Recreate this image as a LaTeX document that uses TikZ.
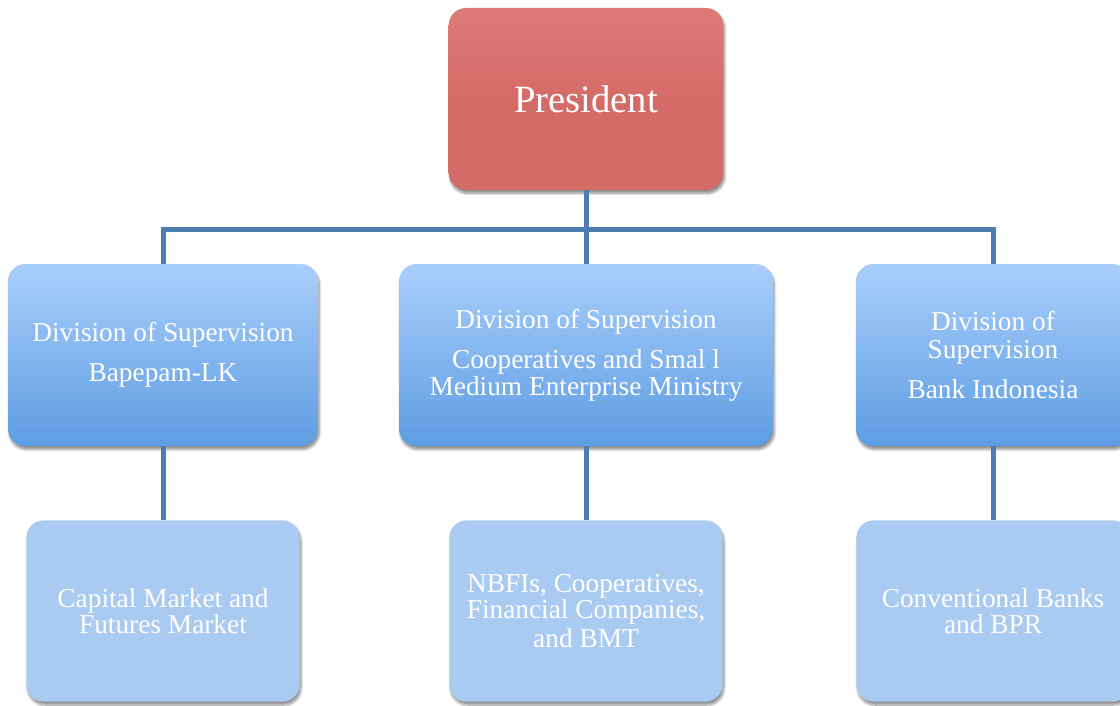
\documentclass[tikz,border=0pt]{standalone}
\usepackage{fontspec}
\setmainfont{Liberation Serif}
\usetikzlibrary{trees,shadows.blur}

\definecolor{presred}{HTML}{D56B67}
\definecolor{presredtop}{HTML}{DC7B76}
\definecolor{divtop}{HTML}{A9CEFB}
\definecolor{divbottom}{HTML}{5E9DE2}
\definecolor{sectorblue}{HTML}{A9CBF1}
\definecolor{linkblue}{HTML}{4D7DB3}

\tikzset{
	boxshadow/.style={blur shadow={shadow xshift=1pt, shadow yshift=-2.5pt, shadow blur steps=8, shadow opacity=45}},
	presbox/.style={rectangle, rounded corners=13pt, boxshadow, top color=presredtop, bottom color=presred, middle color=presred,
		minimum width=206pt, minimum height=136.5pt, inner sep=0pt, text=white, font=\fontsize{29pt}{32pt}\selectfont},
	divbox/.style={rectangle, rounded corners=13pt, boxshadow, top color=divtop, bottom color=divbottom,
		minimum height=136.5pt, inner sep=0pt, align=center, text=white, font=\fontsize{20.5pt}{20.5pt}\selectfont},
	sectorbox/.style={rectangle, rounded corners=13pt, boxshadow, fill=sectorblue,
		minimum width=205pt, minimum height=136pt, inner sep=0pt, align=center, text=white, font=\fontsize{20.5pt}{20pt}\selectfont}
}

\begin{document}
\begin{tikzpicture}
	[level distance=192pt,
	level 1/.style={sibling distance=311.25pt,
		edge from parent path={(\tikzparentnode.south) -- ++(0,-29.25pt) -| (\tikzchildnode.north)}},
	level 2/.style={edge from parent path={(\tikzparentnode.south) -- (\tikzchildnode.north)}},
	edge from parent/.style={draw=linkblue, line width=3.75pt}]
	\clip (0,0) rectangle (840pt,-529.5pt);
	\node[presbox] (president) at (439.5pt,-74.25pt) {President}
	child { node[divbox, minimum width=232.5pt, xshift=-6pt] (bapepam) {Division of Supervision\\[9.5pt]Bapepam-LK}
		child {node[sectorbox] (capital) {Capital Market and\\Futures Market}}
	}
	child { node[divbox, minimum width=280.5pt] (coop) {Division of Supervision\\[9.5pt]Cooperatives and Smal l\\Medium Enterprise Ministry}
		child {node[sectorbox] (nbfi) {NBFIs, Cooperatives,\\Financial Companies,\\[1.5pt]and BMT}}
	}
	child { node[divbox, minimum width=205.5pt, xshift=-6pt] (bankind) {Division of\\Supervision\\[9.5pt]Bank Indonesia}
		child {node[sectorbox] (banks) {Conventional Banks\\and BPR}}
	};
\end{tikzpicture}
\end{document}
